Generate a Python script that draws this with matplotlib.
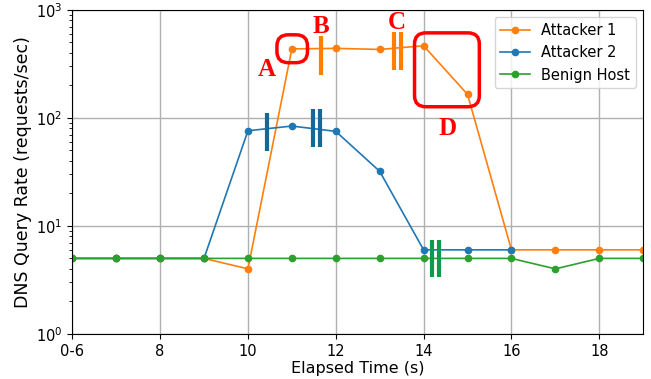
import matplotlib
matplotlib.use("Agg")
import matplotlib.pyplot as plt
from matplotlib.patches import FancyBboxPatch
from matplotlib.transforms import blended_transform_factory

# elapsed time (s); first point stands for 0-6 s
seconds = [6, 7, 8, 9, 10, 11, 12, 13, 14, 15, 16, 17, 18, 19]
attacker1 = [5, 5, 5, 5, 4, 435, 440, 430, 465, 165, 6, 6, 6, 6]
attacker2 = [5, 5, 5, 5, 76, 84, 75, 32, 6, 6, 6]
benign = [5, 5, 5, 5, 5, 5, 5, 5, 5, 5, 5, 4, 5, 5]

tick_pos = [6, 8, 10, 12, 14, 16, 18]
tick_labels = ["0-6", "8", "10", "12", "14", "16", "18"]

fig = plt.figure(figsize=(6.51, 3.79), dpi=100)
ax = fig.add_axes([0.111, 0.119, 0.877, 0.855])

ax.plot(seconds, attacker1, "-o", color="#ff7f0e", lw=1.2, ms=4.5, label="Attacker 1")
ax.plot(seconds[:len(attacker2)], attacker2, "-o", color="#1f77b4", lw=1.2, ms=4.5, label="Attacker 2")
ax.plot(seconds, benign, "-o", color="#2ca02c", lw=1.2, ms=4.5, label="Benign Host")

ax.set_yscale("log")
ax.set_ylim(1, 1000)
ax.set_xlim(6, 19)
ax.set_xticks(tick_pos)
ax.set_xticklabels(tick_labels)
ax.tick_params(labelsize=10.5)
ax.grid(True, which="major", color="#b0b0b0", lw=1)
ax.set_axisbelow(True)
ax.set_xlabel("Elapsed Time (s)", fontsize=11.5, labelpad=2)
ax.set_ylabel("DNS Query Rate (requests/sec)", fontsize=12.5, labelpad=3)
ax.legend(loc="upper right", fontsize=10.5)

# break marks (x in data, y in axes fraction)
trans = blended_transform_factory(ax.transData, ax.transAxes)
breaks = [
    ([11.66], 0.80, 0.92, "#ff8000"),
    ([13.33, 13.49], 0.815, 0.932, "#ff8000"),
    ([10.43], 0.563, 0.682, "#13699a"),
    ([11.48, 11.65], 0.577, 0.694, "#13699a"),
    ([14.20, 14.36], 0.176, 0.290, "#0c9a4c"),
]
for xs, y0, y1, c in breaks:
    for x in xs:
        ax.plot([x, x], [y0, y1], color=c, lw=3, transform=trans, solid_capstyle="butt", zorder=5)

# red callouts
for (x0, x1, y0, y1) in [(0.3585, 0.412, 0.837, 0.923), (0.5995, 0.713, 0.701, 0.929)]:
    box = FancyBboxPatch((x0, y0), x1 - x0, y1 - y0, boxstyle="round,pad=0,rounding_size=0.02",
                         transform=ax.transAxes, fill=False, ec="red", lw=2.5, zorder=6,
                         mutation_aspect=1.7)
    ax.add_patch(box)
for letter, x, y in [("A", 0.340, 0.815), ("B", 0.436, 0.950), ("C", 0.569, 0.962), ("D", 0.657, 0.635)]:
    ax.text(x, y, letter, transform=ax.transAxes, color="red", fontsize=18, fontweight="bold",
            family="Liberation Serif", ha="center", va="center", zorder=7)

fig.savefig("out.png", dpi=100)
